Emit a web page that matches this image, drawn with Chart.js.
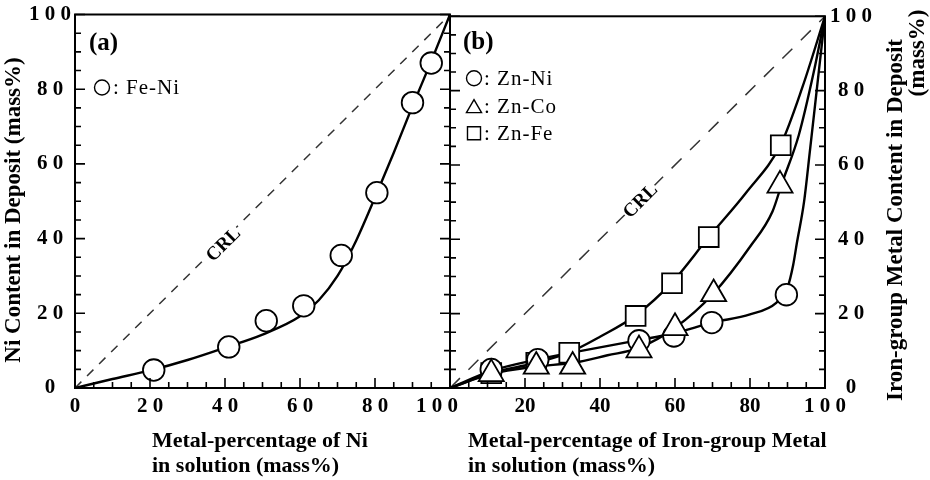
<!DOCTYPE html>
<html>
<head>
<meta charset="utf-8">
<script src="https://cdn.jsdelivr.net/npm/chart.js@4/dist/chart.umd.min.js"></script>
<style>
  body { margin: 0; background: #fff; }
  #stage { position: relative; width: 930px; height: 480px; overflow: hidden; }
  #stage canvas { position: absolute; left: 0; top: 0; }
</style>
</head>
<body>
<div id="stage">
  <canvas id="chartA" width="930" height="480"></canvas>
  <canvas id="chartB" width="930" height="480"></canvas>
</div>
<script>
// ---- tick labels (spaced digits like the printed figure) ----
const tickLabelsAX = ['0', '2 0', '4 0', '6 0', '8 0', '1 0 0\u2002\u2002 '];
const tickLabelsAY = ['0', '2 0', '4 0', '6 0', '8 0', '1 0 0'];
const tickLabelsBX = ['', '20', '40', '60', '80', '1 0 0'];
const tickLabelsBY = ['0', '2 0', '4 0', '6 0', '8 0', '1 0 0'];

// composition reference line (deposit % = solution %)
const crlX = [0, 100];
const crlY = [0, 100];

// (a) Fe-Ni measured points
const feNiX = [21, 41, 51, 61, 71, 80.5, 90, 95];
const feNiY = [4.8, 11, 18, 22, 35.5, 52.3, 76.4, 87];
// (a) drawn curve
const feNiCurveX = [0, 10, 20, 30, 40, 50, 60, 65, 70, 75, 80, 85, 90, 95, 100];
const feNiCurveY = [0, 2.4, 4.7, 7.5, 10.8, 14.3, 19.2, 23.5, 30, 39.5, 51, 63, 75.5, 87.5, 100];

// (b) measured points
const znNiX = [11, 23.4, 50.4, 59.7, 69.8, 89.7];
const znNiY = [5, 7.6, 12.7, 14, 17.6, 25.1];
const znCoX = [11, 23, 32.7, 50.4, 60, 70.3, 88];
const znCoY = [3.8, 5.8, 5.8, 10.2, 16.2, 25.3, 54.5];
const znFeX = [11, 23, 31.8, 49.5, 59.2, 69, 88.2];
const znFeY = [4, 6.8, 9.5, 19.4, 28.2, 40.6, 65.3];

// (b) drawn curves
const znNiCurveX = [0, 11, 23, 35, 50, 60, 70, 80, 87, 90, 91.5, 92.5, 94.4, 96, 98, 100];
const znNiCurveY = [0, 4.6, 7.6, 10, 12.8, 14.8, 17.6, 19.8, 22.9, 27, 33, 39, 50, 64, 82, 100];
const znCoCurveX = [0, 11, 23, 33, 42, 50.4, 60, 70.3, 80, 86, 88.5, 93, 97, 100];
const znCoCurveY = [0, 3.8, 5.8, 6.8, 8.8, 10.8, 16.2, 25.5, 38, 47.5, 55, 68, 85, 100];
const znFeCurveX = [0, 11, 23, 31.8, 40, 49.5, 59.2, 69, 79, 88.2, 94, 100];
const znFeCurveY = [0, 4, 6.8, 9.6, 13.8, 19.5, 28.4, 40.6, 52.6, 65.5, 81, 100];

const seriesNamesA = ['Fe-Ni'];
const seriesNamesB = ['Zn-Ni', 'Zn-Co', 'Zn-Fe'];

const serif = "'Liberation Serif', 'Times New Roman', serif";
const tickFont = { family: serif, size: 21, weight: 'bold', lineHeight: 1 };

function pts(xs, ys) {
    return xs.map((x, i) => ({ x: x, y: ys[i] }));
}

function markerSet(label, xs, ys, style, radius, order) {
    return {
        label: label,
        data: pts(xs, ys),
        showLine: false,
        pointStyle: style,
        pointRadius: radius,
        pointBackgroundColor: '#fff',
        pointBorderColor: '#000',
        pointBorderWidth: 1.8,
        order: order
    };
}

function curveSet(label, xs, ys, order) {
    return {
        label: label,
        data: pts(xs, ys),
        showLine: true,
        borderColor: '#000',
        borderWidth: 2.4,
        pointRadius: 0,
        cubicInterpolationMode: 'monotone',
        fill: false,
        order: order
    };
}

function crlSet(dash) {
    return {
        label: 'CRL',
        data: pts(crlX, crlY),
        showLine: true,
        borderColor: '#333',
        borderWidth: 1.5,
        borderDash: dash,
        pointRadius: 0,
        order: 20
    };
}

function drawSymbol(ctx, style, cx, cy, r) {
    ctx.beginPath();
    if (style === 'circle') {
        ctx.arc(cx, cy, r, 0, Math.PI * 2);
    } else if (style === 'triangle') {
        ctx.moveTo(cx, cy - r);
        ctx.lineTo(cx + r * 0.866, cy + r * 0.5);
        ctx.lineTo(cx - r * 0.866, cy + r * 0.5);
        ctx.closePath();
    } else {
        ctx.rect(cx - r * 0.7, cy - r * 0.7, r * 1.4, r * 1.4);
    }
    ctx.fillStyle = '#fff';
    ctx.fill();
    ctx.lineWidth = 1.4;
    ctx.strokeStyle = '#000';
    ctx.stroke();
}

// frame, inward ticks, CRL tag, panel tag, legend and axis titles
const panelDecor = {
    id: 'panelDecor',
    afterDatasetsDraw(chart, args, o) {
        const { ctx, scales: { x, y } } = chart;
        ctx.save();
        ctx.translate(x.getPixelForValue(o.crlAt[0]), y.getPixelForValue(o.crlAt[1]));
        ctx.rotate(-Math.PI / 4);
        ctx.font = 'bold 19px ' + serif;
        const w = ctx.measureText('CRL').width;
        ctx.fillStyle = '#fff';
        ctx.fillRect(-w / 2 - 1, -7, w + 2, 14);
        ctx.fillStyle = '#000';
        ctx.textAlign = 'center';
        ctx.textBaseline = 'middle';
        ctx.fillText('CRL', 0, 1);
        ctx.restore();
    },
    afterDraw(chart, args, o) {
        const { ctx, chartArea: a, scales: { x, y } } = chart;
        ctx.save();
        ctx.strokeStyle = '#000';
        ctx.lineWidth = 2;
        ctx.strokeRect(a.left, a.top, a.right - a.left, a.bottom - a.top);

        ctx.lineWidth = 1.6;
        ctx.beginPath();
        for (let v = 0; v <= 100; v += 5) {
            const len = v % 20 === 0 ? 10 : 6;
            const px = x.getPixelForValue(v);
            const py = y.getPixelForValue(v);
            ctx.moveTo(px, a.bottom);
            ctx.lineTo(px, a.bottom - len);
            ctx.moveTo(a.left, py);
            ctx.lineTo(a.left + len, py);
            ctx.moveTo(a.right, py);
            ctx.lineTo(a.right - len, py);
        }
        ctx.stroke();

        // panel tag
        ctx.fillStyle = '#000';
        ctx.textAlign = 'left';
        ctx.textBaseline = 'middle';
        ctx.font = 'bold 25px ' + serif;
        ctx.fillText(o.tag, a.left + o.tagAt[0], a.top + o.tagAt[1]);

        // legend
        ctx.font = '21px ' + serif;
        ctx.letterSpacing = '1px';
        o.legend.forEach(item => {
            const cx = a.left + item.at[0];
            const cy = a.top + item.at[1];
            drawSymbol(ctx, item.style, cx, cy, item.r);
            ctx.fillStyle = '#000';
            ctx.fillText(': ' + item.text, a.left + o.legendTextX, a.top + item.textY);
        });
        ctx.letterSpacing = '0px';

        // axis titles
        ctx.font = 'bold 22px ' + serif;
        ctx.textBaseline = 'alphabetic';
        ctx.textAlign = 'left';
        o.xTitle.forEach((line, i) => {
            ctx.fillText(line, o.xTitleAt[0], o.xTitleAt[1] + i * 25);
        });
        ctx.font = 'bold 23px ' + serif;
        ctx.textAlign = 'center';
        o.yTitle.forEach((line, i) => {
            const p = o.yTitleAt[i];
            ctx.save();
            ctx.translate(p[0], p[1]);
            ctx.rotate(-Math.PI / 2);
            ctx.fillText(line, 0, 0);
            ctx.restore();
        });
        ctx.restore();
    }
};

function axisX(labels, fitHeight) {
    return {
        type: 'linear',
        min: 0,
        max: 100,
        afterFit: s => { s.height = fitHeight; },
        ticks: {
            stepSize: 20,
            autoSkip: false,
            maxRotation: 0,
            padding: 8,
            color: '#000',
            font: tickFont,
            callback: (v, i) => labels[i]
        },
        grid: { display: false, drawTicks: false },
        border: { display: false }
    };
}

function axisY(labels, position, fitWidth, pad) {
    return {
        type: 'linear',
        position: position,
        min: 0,
        max: 100,
        afterFit: s => { s.width = fitWidth; },
        ticks: {
            stepSize: 20,
            autoSkip: false,
            padding: pad,
            crossAlign: 'center',
            color: '#000',
            font: tickFont,
            callback: (v, i) => labels[i]
        },
        grid: { display: false, drawTicks: false },
        border: { display: false }
    };
}

const baseOptions = {
    responsive: false,
    animation: false,
    events: [],
    plugins: {
        legend: { display: false },
        tooltip: { enabled: false }
    }
};

// panel (a)
new Chart(document.getElementById('chartA'), {
    type: 'scatter',
    data: {
        datasets: [
            markerSet(seriesNamesA[0], feNiX, feNiY, 'circle', 10.8, 0),
            curveSet(seriesNamesA[0] + ' curve', feNiCurveX, feNiCurveY, 5),
            crlSet([9, 8])
        ]
    },
    options: {
        ...baseOptions,
        layout: { padding: { left: 0, right: 480, top: 11, bottom: 0 } },
        scales: {
            x: axisX(tickLabelsAX, 92),
            y: axisY(tickLabelsAY, 'left', 75, 4)
        },
        plugins: {
            ...baseOptions.plugins,
            panelDecor: {
                crlAt: [39.5, 38.5],
                tag: '(a)',
                tagAt: [14, 29],
                legend: [{ style: 'circle', text: seriesNamesA[0], at: [27, 73], r: 7.5, textY: 74 }],
                legendTextX: 38,
                xTitle: ['Metal-percentage of Ni', 'in solution (mass%)'],
                xTitleAt: [152, 447],
                yTitle: ['Ni Content in Deposit (mass%)'],
                yTitleAt: [[20, 210]]
            }
        }
    },
    plugins: [panelDecor]
});

// panel (b)
new Chart(document.getElementById('chartB'), {
    type: 'scatter',
    data: {
        datasets: [
            markerSet(seriesNamesB[1], znCoX, znCoY, 'triangle', 14.5, 0),
            markerSet(seriesNamesB[0], znNiX, znNiY, 'circle', 10.8, 1),
            markerSet(seriesNamesB[2], znFeX, znFeY, 'rect', 14, 2),
            curveSet(seriesNamesB[0] + ' curve', znNiCurveX, znNiCurveY, 5),
            curveSet(seriesNamesB[1] + ' curve', znCoCurveX, znCoCurveY, 6),
            curveSet(seriesNamesB[2] + ' curve', znFeCurveX, znFeCurveY, 7),
            crlSet([14, 12])
        ]
    },
    options: {
        ...baseOptions,
        layout: { padding: { left: 450, right: 0, top: 11, bottom: 0 } },
        scales: {
            x: axisX(tickLabelsBX, 92),
            y: axisY(tickLabelsBY, 'right', 105, 5)
        },
        plugins: {
            ...baseOptions.plugins,
            panelDecor: {
                crlAt: [50.7, 50.4],
                tag: '(b)',
                tagAt: [13, 26],
                legend: [
                    { style: 'circle', text: seriesNamesB[0], at: [24, 62], r: 7.5, textY: 63 },
                    { style: 'triangle', text: seriesNamesB[1], at: [24, 92], r: 8.7, textY: 91 },
                    { style: 'rect', text: seriesNamesB[2], at: [24, 117], r: 9.3, textY: 118 }
                ],
                legendTextX: 34,
                xTitle: ['Metal-percentage of Iron-group Metal', 'in solution (mass%)'],
                xTitleAt: [468, 447],
                yTitle: ['Iron-group Metal Content in Deposit', '(mass%)'],
                yTitleAt: [[902, 220], [924, 53]]
            }
        }
    },
    plugins: [panelDecor]
});
</script>
</body>
</html>
